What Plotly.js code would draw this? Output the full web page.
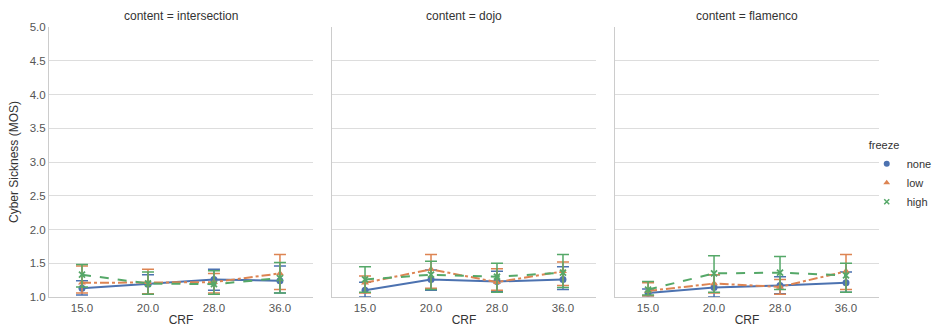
<!DOCTYPE html>
<html>
<head>
<meta charset="utf-8">
<script src="https://cdn.plot.ly/plotly-3.0.1.min.js"></script>
<style>html,body{margin:0;padding:0;background:#fff;}#chart{width:937px;height:329px;}</style>
</head>
<body>
<div id="chart"></div>
<script>
// ---- data ----
const crf = ['15.0', '20.0', '28.0', '36.0'];
const contents = ['intersection', 'dojo', 'flamenco'];
const freezeLevels = ['none', 'low', 'high'];

// means per content (rows: intersection, dojo, flamenco)
const noneMean = [[1.13, 1.19, 1.26, 1.24], [1.10, 1.26, 1.23, 1.26], [1.06, 1.14, 1.17, 1.21]];
const noneLo   = [[1.03, 1.05, 1.10, 1.06], [1.00, 1.10, 1.08, 1.11], [1.02, 1.00, 1.05, 1.07]];
const noneHi   = [[1.24, 1.33, 1.41, 1.46], [1.22, 1.40, 1.38, 1.45], [1.12, 1.33, 1.30, 1.37]];

const lowMean = [[1.21, 1.22, 1.22, 1.35], [1.21, 1.41, 1.22, 1.38], [1.09, 1.20, 1.15, 1.38]];
const lowLo   = [[1.06, 1.05, 1.06, 1.11], [1.06, 1.13, 1.10, 1.17], [1.02, 1.06, 1.04, 1.11]];
const lowHi   = [[1.46, 1.41, 1.35, 1.63], [1.31, 1.63, 1.42, 1.52], [1.21, 1.33, 1.26, 1.63]];

const highMean = [[1.33, 1.20, 1.19, 1.28], [1.26, 1.33, 1.30, 1.36], [1.11, 1.35, 1.36, 1.32]];
const highLo   = [[1.15, 1.04, 1.04, 1.06], [1.07, 1.11, 1.07, 1.14], [1.03, 1.07, 1.11, 1.07]];
const highHi   = [[1.48, 1.37, 1.39, 1.51], [1.45, 1.53, 1.50, 1.63], [1.23, 1.61, 1.60, 1.50]];

const yTicks = [1.0, 1.5, 2.0, 2.5, 3.0, 3.5, 4.0, 4.5, 5.0];

// ---- styles ----
const colors = {none: '#4c72b0', low: '#dd8452', high: '#55a868'};
const dashes = {none: 'solid', low: 'dashdot', high: 'dash'};
const symbols = {none: 'circle', low: 'triangle-up', high: 'x-thin-open'};
const series = {
  none: [noneMean, noneLo, noneHi],
  low: [lowMean, lowLo, lowHi],
  high: [highMean, highLo, highHi]
};

const traces = [];
contents.forEach((c, ci) => {
  const xa = ci === 0 ? 'x' : 'x' + (ci + 1);
  const ya = ci === 0 ? 'y' : 'y' + (ci + 1);
  freezeLevels.forEach(f => {
    const [m, lo, hi] = series[f];
    const mean = m[ci];
    traces.push({
      type: 'scatter', mode: 'lines+markers',
      x: crf, y: mean, xaxis: xa, yaxis: ya,
      showlegend: false,
      line: {color: colors[f], dash: dashes[f], width: 2},
      marker: {color: colors[f], symbol: symbols[f], size: f === 'high' ? 6 : 7,
               line: {color: colors[f], width: f === 'high' ? 1.8 : 0}},
      error_y: {type: 'data', symmetric: false,
                array: hi[ci].map((v, i) => v - mean[i]),
                arrayminus: mean.map((v, i) => v - lo[ci][i]),
                color: colors[f], thickness: 1.5, width: 6}
    });
  });
});
// legend entries (markers only)
freezeLevels.forEach(f => {
  traces.push({
    type: 'scatter', mode: 'markers', x: [null], y: [null], name: f,
    marker: {color: colors[f], symbol: symbols[f], size: f === 'high' ? 5 : 6,
             line: {color: colors[f], width: f === 'high' ? 1.5 : 0}},
    showlegend: true, hoverinfo: 'skip'
  });
});

const gridColor = '#dddddd';
const xdomains = [[0, 0.318], [0.341, 0.659], [0.682, 1]];

const layout = {
  width: 937, height: 329,
  margin: {l: 49, r: 58, t: 27, b: 32, autoexpand: false},
  paper_bgcolor: '#fff', plot_bgcolor: '#fff',
  font: {family: 'Liberation Sans, Arial, sans-serif', color: '#333', size: 11},
  showlegend: true,
  legend: {
    title: {text: 'freeze', font: {size: 11, color: '#333'}},
    xref: 'container', yref: 'container',
    x: 0.925, xanchor: 'left', y: 0.59, yanchor: 'top',
    font: {size: 11, color: '#333'}, bgcolor: 'rgba(0,0,0,0)',
    tracegroupgap: 0, itemwidth: 30
  },
  annotations: contents.map((c, ci) => ({
    text: 'content = ' + c, xref: 'paper', yref: 'paper',
    x: (xdomains[ci][0] + xdomains[ci][1]) / 2, y: 1, xanchor: 'center', yanchor: 'bottom',
    yshift: 2, showarrow: false, font: {size: 12, color: '#333'}
  }))
};

contents.forEach((c, ci) => {
  const xk = ci === 0 ? 'xaxis' : 'xaxis' + (ci + 1);
  const yk = ci === 0 ? 'yaxis' : 'yaxis' + (ci + 1);
  layout[xk] = {
    domain: xdomains[ci], type: 'category', categoryorder: 'array', categoryarray: crf,
    range: [-0.5, 3.5], anchor: ci === 0 ? 'y' : 'y' + (ci + 1),
    showgrid: false, showline: true, linecolor: '#cccccc', linewidth: 1,
    ticks: '', tickfont: {size: 11.5, color: '#555'}, zeroline: false,
    title: {text: 'CRF', font: {size: 12, color: '#333'}, standoff: 2}
  };
  layout[yk] = {
    domain: [0, 1], range: [1, 5], anchor: ci === 0 ? 'x' : 'x' + (ci + 1),
    tickvals: yTicks, ticktext: yTicks.map(v => v.toFixed(1)),
    showticklabels: ci === 0, showgrid: true, gridcolor: gridColor, gridwidth: 1,
    showline: true, linecolor: '#cccccc', linewidth: 1, zeroline: false,
    ticks: '', tickfont: {size: 11.5, color: '#555'},
    title: ci === 0 ? {text: 'Cyber Sickness (MOS)', font: {size: 12, color: '#333'}, standoff: 8} : {text: ''}
  };
});

Plotly.newPlot('chart', traces, layout, {displayModeBar: false, staticPlot: true});
</script>
</body>
</html>
